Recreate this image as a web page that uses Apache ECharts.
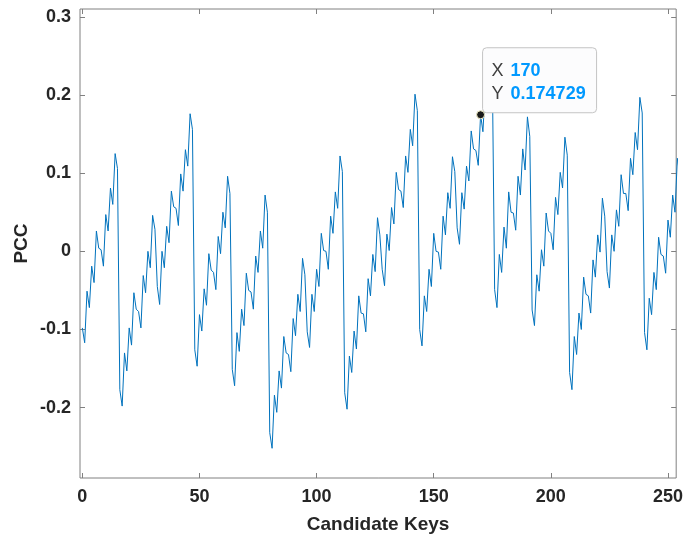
<!DOCTYPE html>
<html>
<head>
<meta charset="utf-8">
<script src="https://cdn.jsdelivr.net/npm/echarts@6/dist/echarts.min.js"></script>
<style>
html,body{margin:0;padding:0;background:#fff;}
#chart{width:686px;height:539px;}
</style>
</head>
<body>
<div id="chart"></div>
<script>
// Candidate keys 0..255
var keys = [];
for (var i = 0; i < 256; i++) keys.push(i);

// PCC values (blocks of 16 keys)
var pcc0  = [-0.098,-0.117,-0.051,-0.072,-0.019,-0.040,0.026,0.004,0.002,-0.019,0.047,0.026,0.081,0.060,0.125,0.106];
var pcc1  = [-0.177,-0.198,-0.130,-0.153,-0.098,-0.120,-0.053,-0.074,-0.077,-0.098,-0.031,-0.053,0.000,-0.021,0.046,0.028];
var pcc2  = [-0.045,-0.068,0.000,-0.021,0.032,0.011,0.077,0.057,0.055,0.033,0.099,0.077,0.130,0.109,0.176,0.156];
var pcc3  = [-0.126,-0.147,-0.081,-0.102,-0.048,-0.069,-0.003,-0.024,-0.027,-0.049,0.019,-0.003,0.050,0.030,0.096,0.074];
var pcc4  = [-0.151,-0.172,-0.104,-0.128,-0.074,-0.095,-0.028,-0.050,-0.052,-0.074,-0.006,-0.027,0.026,0.004,0.072,0.050];
var pcc5  = [-0.232,-0.252,-0.184,-0.206,-0.153,-0.175,-0.109,-0.130,-0.132,-0.154,-0.086,-0.108,-0.055,-0.077,-0.009,-0.030];
var pcc6  = [-0.103,-0.123,-0.055,-0.077,-0.023,-0.045,0.023,0.001,0.000,-0.023,0.045,0.023,0.076,0.055,0.122,0.102];
var pcc7  = [-0.181,-0.202,-0.134,-0.155,-0.102,-0.125,-0.057,-0.079,-0.080,-0.103,-0.035,-0.057,-0.004,-0.026,0.043,0.021];
var pcc8  = [-0.023,-0.044,0.022,0.001,0.056,0.035,0.101,0.079,0.077,0.056,0.122,0.101,0.156,0.135,0.201,0.180];
var pcc9  = [-0.100,-0.121,-0.057,-0.077,-0.023,-0.045,0.023,0.000,-0.001,-0.023,0.045,0.021,0.075,0.055,0.121,0.102];
var pcc10 = [0.030,0.009,0.075,0.054,0.109,0.090,0.154,0.131,0.129,0.110,0.174729,0.153,0.209,0.188,0.254,0.233];
var pcc11 = [-0.049,-0.072,-0.004,-0.027,0.031,0.004,0.076,0.050,0.049,0.027,0.096,0.072,0.131,0.104,0.172,0.147];
var pcc12 = [-0.075,-0.095,-0.030,-0.051,0.002,-0.019,0.049,0.026,0.023,0.002,0.069,0.047,0.101,0.081,0.146,0.123];
var pcc13 = [-0.155,-0.177,-0.109,-0.132,-0.079,-0.100,-0.033,-0.055,-0.057,-0.079,-0.011,-0.033,0.021,-0.001,0.068,0.045];
var pcc14 = [-0.026,-0.047,0.021,0.000,0.053,0.032,0.098,0.074,0.074,0.052,0.119,0.098,0.152,0.130,0.197,0.177];
var pcc15 = [-0.104,-0.126,-0.060,-0.081,-0.027,-0.049,0.018,-0.004,-0.006,-0.028,0.040,0.018,0.072,0.050,0.119,0.099];

var pcc = [].concat(pcc0,pcc1,pcc2,pcc3,pcc4,pcc5,pcc6,pcc7,pcc8,pcc9,pcc10,pcc11,pcc12,pcc13,pcc14,pcc15);

var xTicks = [0, 50, 100, 150, 200, 250];
var yTicks = [-0.2, -0.1, 0, 0.1, 0.2, 0.3];
var yTickLabels = ['-0.2', '-0.1', '0', '0.1', '0.2', '0.3'];

var tipKey = 170;
var tipValue = 0.174729;

var seriesData = keys.map(function (k, i) { return [k, pcc[i]]; });

var chart = echarts.init(document.getElementById('chart'), null, {renderer: 'canvas'});
var FONT = 'Liberation Sans, Arial, Helvetica, sans-serif';
var TXT = '#262626';
var AX = '#808080';

function yFmt(v) {
  for (var i = 0; i < yTicks.length; i++) {
    if (Math.abs(v - yTicks[i]) < 1e-9) return yTickLabels[i];
  }
  return '';
}

var gridPos = {left: 80, top: 9, width: 597, height: 470};
var tickStyle = {color: AX, width: 1};

chart.setOption({
  animation: false,
  backgroundColor: '#ffffff',
  grid: Object.assign({show: true, borderColor: AX, borderWidth: 1, backgroundColor: 'transparent', containLabel: false}, gridPos),
  xAxis: [{
    type: 'value', min: -1, max: 253.5, position: 'bottom',
    name: 'Candidate Keys', nameLocation: 'middle', nameGap: 37,
    nameTextStyle: {fontFamily: FONT, fontSize: 19, fontWeight: 'bold', color: TXT},
    axisLine: {show: false, onZero: false},
    axisTick: {show: true, inside: true, length: 5, lineStyle: tickStyle, customValues: xTicks},
    axisLabel: {show: true, margin: 10, fontFamily: FONT, fontSize: 18, fontWeight: 'bold', color: TXT, customValues: xTicks},
    splitLine: {show: false}
  }, {
    type: 'value', min: -1, max: 253.5, position: 'top',
    axisLine: {show: false, onZero: false},
    axisTick: {show: true, inside: true, length: 5, lineStyle: tickStyle, customValues: xTicks},
    axisLabel: {show: false},
    splitLine: {show: false}
  }],
  yAxis: [{
    type: 'value', min: -0.29, max: 0.31, position: 'left',
    name: 'PCC', nameLocation: 'middle', nameGap: 49, nameRotate: 90, nameMoveOverlap: false,
    nameTextStyle: {fontFamily: FONT, fontSize: 19, fontWeight: 'bold', color: TXT},
    axisLine: {show: false, onZero: false},
    axisTick: {show: true, inside: true, length: 5, lineStyle: tickStyle, customValues: yTicks},
    axisLabel: {show: true, margin: 9, fontFamily: FONT, fontSize: 18, fontWeight: 'bold', color: TXT, customValues: yTicks, formatter: yFmt},
    splitLine: {show: false}
  }, {
    type: 'value', min: -0.29, max: 0.31, position: 'right',
    axisLine: {show: false, onZero: false},
    axisTick: {show: true, inside: true, length: 5, lineStyle: tickStyle, customValues: yTicks},
    axisLabel: {show: false},
    splitLine: {show: false}
  }],
  series: [{
    type: 'line',
    data: seriesData,
    xAxisIndex: 0, yAxisIndex: 0,
    showSymbol: false,
    clip: true,
    lineStyle: {color: '#0072BD', width: 1},
    itemStyle: {color: '#0072BD'},
    z: 2
  }]
});

var p = chart.convertToPixel({xAxisIndex: 0, yAxisIndex: 0}, [tipKey, tipValue]);
var bx = p[0] + 2, bw = 114, bh = 65, by = p[1] - 2 - bh;
chart.setOption({
  graphic: [
    {type: 'rect', z: 100, shape: {x: bx, y: by, width: bw, height: bh, r: 4},
     style: {fill: '#fcfcfd', stroke: '#c4c4c4', lineWidth: 1}},
    {type: 'text', z: 101, x: bx + 9, y: by + 23,
     style: {text: 'X', fontFamily: FONT, fontSize: 18, fill: '#404040', verticalAlign: 'middle', align: 'left'}},
    {type: 'text', z: 101, x: bx + 28, y: by + 23,
     style: {text: String(tipKey), fontFamily: FONT, fontSize: 18, fontWeight: 'bold', fill: '#0099ff', verticalAlign: 'middle', align: 'left'}},
    {type: 'text', z: 101, x: bx + 9, y: by + 46,
     style: {text: 'Y', fontFamily: FONT, fontSize: 18, fill: '#404040', verticalAlign: 'middle', align: 'left'}},
    {type: 'text', z: 101, x: bx + 28, y: by + 46,
     style: {text: String(tipValue), fontFamily: FONT, fontSize: 18, fontWeight: 'bold', fill: '#0099ff', verticalAlign: 'middle', align: 'left'}},
    {type: 'circle', z: 102, shape: {cx: p[0], cy: p[1], r: 4},
     style: {fill: '#1a1a1a', stroke: '#f5f0c8', lineWidth: 1}}
  ]
});
</script>
</body>
</html>
